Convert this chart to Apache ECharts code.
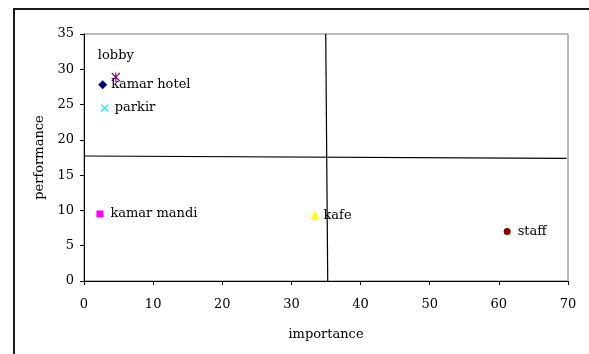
<!DOCTYPE html>
<html>
<head>
<meta charset="utf-8">
<script src="https://cdn.jsdelivr.net/npm/echarts@6/dist/echarts.min.js"></script>
<style>
  html, body { margin: 0; padding: 0; background: #fff; }
  #chart { width: 589px; height: 354px; }
</style>
</head>
<body>
<div id="chart"></div>
<script>
// data points (importance, performance)
const names = ["lobby", "kamar hotel", "parkir", "kamar mandi", "kafe", "staff"];
const importance = [4.6, 2.7, 3.0, 2.3, 33.4, 61.2];
const performance = [28.9, 27.8, 24.5, 9.5, 9.3, 7.0];

// quadrant divider lines (hand drawn, slightly tilted)
const vLineX = [34.96, 35.25];
const vLineY = [35, 0];
const hLineX = [0, 69.8];
const hLineY = [17.71, 17.39];

// axis ticks
const xTicks = [0, 10, 20, 30, 40, 50, 60, 70];
const yTicks = [0, 5, 10, 15, 20, 25, 30, 35];

const font = "DejaVu Serif";

// marker styles per point
const X_PATH = "path://M0,1 L1,0 L5,4 L9,0 L10,1 L6,5 L10,9 L9,10 L5,6 L1,10 L0,9 L4,5 Z";
const STAR_PATH = "path://M0,1 L1,0 L5,4 L9,0 L10,1 L6,5 L10,9 L9,10 L5,6 L1,10 L0,9 L4,5 Z M4.4,0 L5.6,0 L5.6,10 L4.4,10 Z";
const styles = [
  { color: "#800080", symbol: STAR_PATH, size: 9, label: { position: "top", distance: 10 } },
  { color: "#000080", symbol: "diamond", size: 9, label: { position: "right", distance: 4 } },
  { color: "#00FFFF", symbol: X_PATH, size: 8, label: { position: "right", distance: 6 } },
  { color: "#FF00FF", symbol: "rect", size: 7, label: { position: "right", distance: 7 } },
  { color: "#FFFF00", symbol: "triangle", size: 9, label: { position: "right", distance: 4 } },
  { color: "#800000", symbol: "circle", size: 7, label: { position: "right", distance: 7 } },
];

const myChart = echarts.init(document.getElementById("chart"));

const pointSeries = names.map((name, i) => ({
  name: name,
  type: "scatter",
  data: [[importance[i], performance[i]]],
  symbol: styles[i].symbol,
  symbolSize: styles[i].size,
  itemStyle: { color: styles[i].color, opacity: 1 },
  label: Object.assign({
    show: true,
    formatter: name,
    color: "#000",
    fontFamily: font,
    fontSize: 13,
  }, styles[i].label),
  z: 5,
}));

const lineStyle = { color: "#000", width: 1.2 };

const option = {
  animation: false,
  graphic: [
    {
      type: "rect",
      silent: true,
      shape: { x: 14, y: 9, width: 620, height: 400 },
      style: { fill: "none", stroke: "#1a1a1a", lineWidth: 2 },
    },
  ],
  grid: {
    left: 84,
    top: 34,
    right: 21,
    bottom: 73,
    show: true,
    borderColor: "#777",
    borderWidth: 1,
  },
  xAxis: {
    type: "value",
    min: xTicks[0],
    max: xTicks[xTicks.length - 1],
    interval: xTicks[1] - xTicks[0],
    name: "importance",
    nameLocation: "middle",
    nameGap: 47,
    nameTextStyle: { color: "#000", fontFamily: font, fontSize: 13 },
    axisLine: { lineStyle: { color: "#000", width: 1 } },
    axisTick: { inside: false, length: 4, lineStyle: { color: "#000" } },
    axisLabel: { color: "#000", fontFamily: font, fontSize: 13, margin: 17 },
    splitLine: { show: false },
  },
  yAxis: {
    type: "value",
    min: yTicks[0],
    max: yTicks[yTicks.length - 1],
    interval: yTicks[1] - yTicks[0],
    name: "performance",
    nameLocation: "middle",
    nameGap: 37,
    nameTextStyle: { color: "#000", fontFamily: font, fontSize: 13 },
    axisLine: { lineStyle: { color: "#000", width: 1 } },
    axisTick: { inside: false, length: 4, lineStyle: { color: "#000" } },
    axisLabel: { color: "#000", fontFamily: font, fontSize: 13, margin: 10 },
    splitLine: { show: false },
  },
  series: [
    {
      type: "line",
      data: vLineX.map((x, i) => [x, vLineY[i]]),
      symbol: "none",
      lineStyle: lineStyle,
      silent: true,
      z: 3,
    },
    {
      type: "line",
      data: hLineX.map((x, i) => [x, hLineY[i]]),
      symbol: "none",
      lineStyle: lineStyle,
      silent: true,
      z: 3,
    },
  ].concat(pointSeries),
};

myChart.setOption(option);
window.addEventListener("resize", myChart.resize);
</script>
</body>
</html>
